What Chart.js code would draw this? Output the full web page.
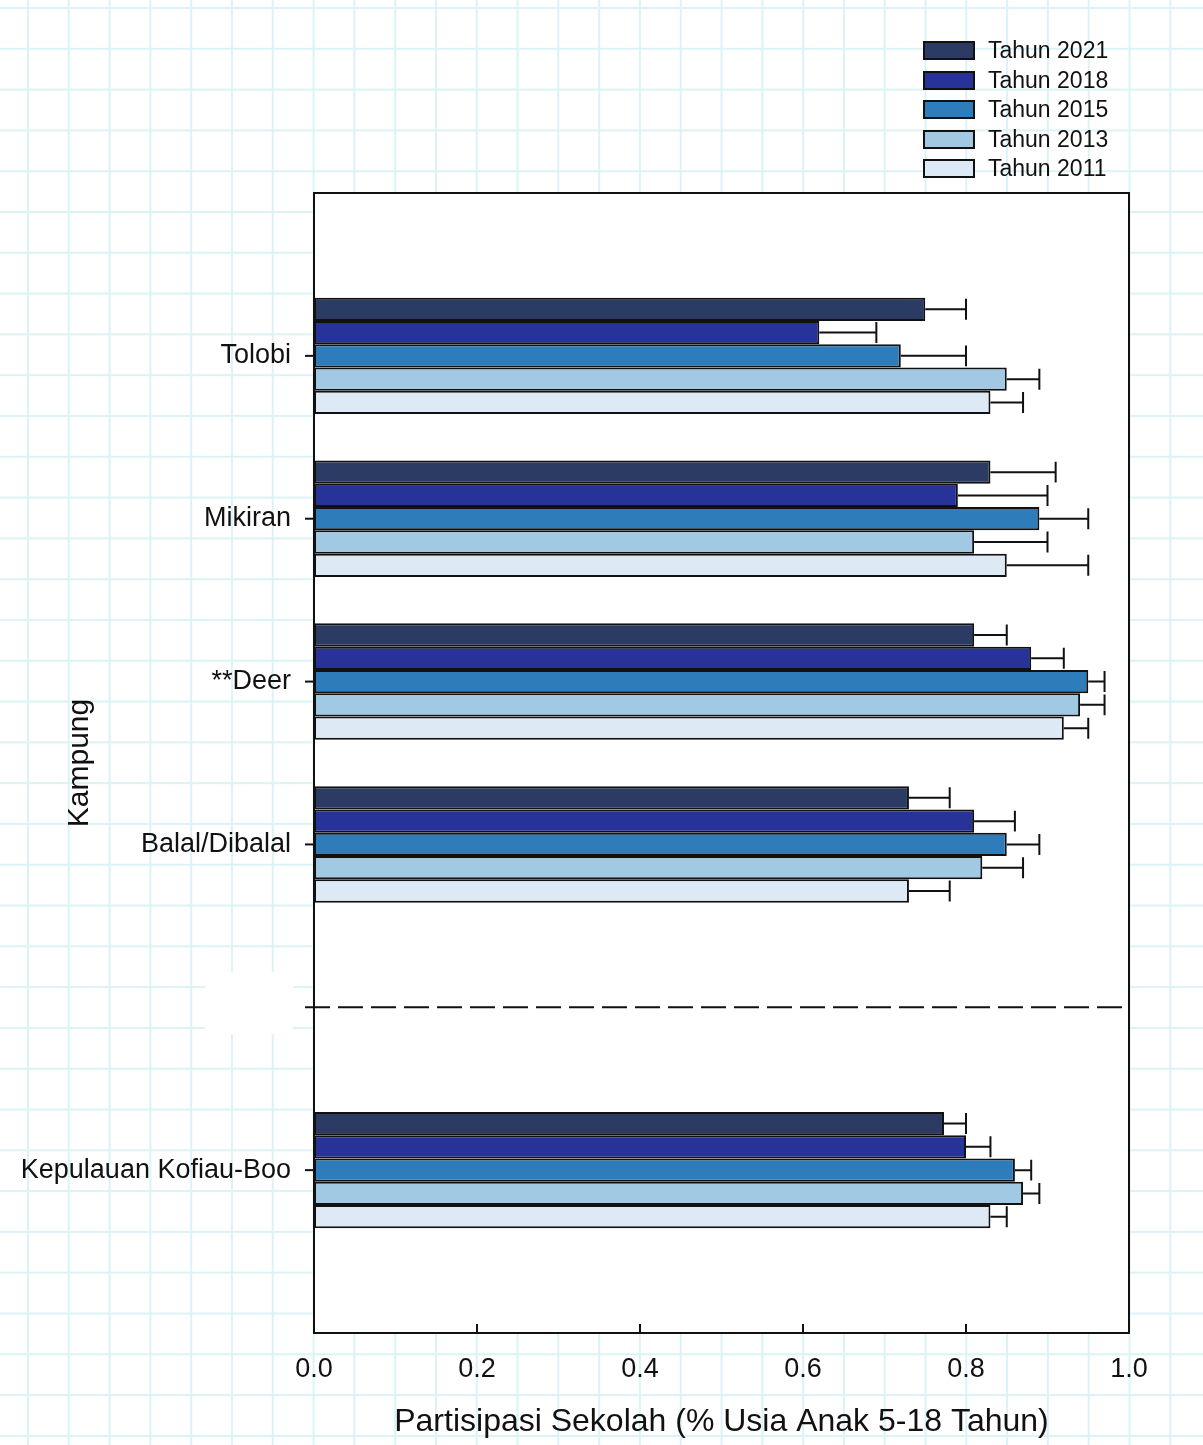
<!DOCTYPE html>
<html>
<head>
<meta charset="utf-8">
<script src="https://cdn.jsdelivr.net/npm/chart.js@4/dist/chart.umd.min.js"></script>
<style>
  html, body {
    margin: 0;
    padding: 0;
  }
  body {
    width: 1203px;
    height: 1445px;
    position: relative;
    overflow: hidden;
    background-color: #fff;
    background-image:
      linear-gradient(to right, #dcf3f6 1.5px, transparent 1.5px),
      linear-gradient(to bottom, #dcf3f6 1.5px, transparent 1.5px);
    background-size: 40.8px 40.8px;
    background-position: 27px 7px;
    font-family: "Liberation Sans", Arial, sans-serif;
  }
  #wrap {
    position: absolute;
    left: 0;
    top: 0;
    width: 1203px;
    height: 1445px;
  }
  #legend {
    position: absolute;
    left: 923px;
    top: 36px;
    font-size: 23px;
    color: #111;
  }
  .item {
    display: flex;
    align-items: center;
    height: 29.5px;
  }
  .swatch {
    width: 48px;
    height: 15px;
    border: 2px solid #111;
    margin-right: 13px;
  }
</style>
</head>
<body>
<div id="wrap"><canvas id="chart" width="1203" height="1445"></canvas></div>
<div id="legend"></div>
<script>
// kampung (blank slots keep the gap above and below, and the dashed divider)
const categories = ['', 'Tolobi', 'Mikiran', '**Deer', 'Balal/Dibalal', '', 'Kepulauan Kofiau-Boo', ''];

const seriesNames = ['Tahun 2021', 'Tahun 2018', 'Tahun 2015', 'Tahun 2013', 'Tahun 2011'];
const seriesColors = ['#2b3b63', '#28339a', '#2e7dba', '#a2c9e3', '#dde9f5'];

// mean participation per kampung, one array per year
const y2021 = [null, 0.75, 0.83, 0.81, 0.73, null, 0.773, null];
const y2018 = [null, 0.62, 0.79, 0.88, 0.81, null, 0.80, null];
const y2015 = [null, 0.72, 0.89, 0.95, 0.85, null, 0.86, null];
const y2013 = [null, 0.85, 0.81, 0.94, 0.82, null, 0.87, null];
const y2011 = [null, 0.83, 0.85, 0.92, 0.73, null, 0.83, null];

// upper end of the error bars
const err2021 = [null, 0.80, 0.91, 0.85, 0.78, null, 0.80, null];
const err2018 = [null, 0.69, 0.90, 0.92, 0.86, null, 0.83, null];
const err2015 = [null, 0.80, 0.95, 0.97, 0.89, null, 0.88, null];
const err2013 = [null, 0.89, 0.90, 0.97, 0.87, null, 0.89, null];
const err2011 = [null, 0.87, 0.95, 0.95, 0.78, null, 0.85, null];

const xTicks = [0, 0.2, 0.4, 0.6, 0.8, 1.0];

const values = [y2021, y2018, y2015, y2013, y2011];
const errors = [err2021, err2018, err2015, err2013, err2011];

const datasets = seriesNames.map((name, i) => ({
  label: name,
  data: values[i],
  errHigh: errors[i],
  backgroundColor: seriesColors[i],
  borderColor: '#111',
  borderWidth: 2,
  borderSkipped: false,
  categoryPercentage: 0.715,
  barPercentage: 1.0,
}));

// legend built by hand so it can sit in one column above the plot
const legendEl = document.getElementById('legend');
seriesNames.forEach((name, i) => {
  const row = document.createElement('div');
  row.className = 'item';
  const sw = document.createElement('span');
  sw.className = 'swatch';
  sw.style.background = seriesColors[i];
  const txt = document.createElement('span');
  txt.textContent = name;
  row.appendChild(sw);
  row.appendChild(txt);
  legendEl.appendChild(row);
});

const FONT = '"Liberation Sans", Arial, sans-serif';

// white plot background, frame, error bars, inner x ticks, dashed divider
const decorPlugin = {
  id: 'decor',
  beforeDatasetsDraw(chart) {
    const { ctx, chartArea: a } = chart;
    ctx.save();
    ctx.fillStyle = '#fff';
    ctx.fillRect(a.left, a.top, a.right - a.left, a.bottom - a.top);
    // blank patch left of the divider, as in the source figure
    ctx.fillRect(205, 972, 88, 62);
    ctx.restore();
  },
  afterDatasetsDraw(chart) {
    const { ctx, chartArea: a, scales } = chart;
    const xs = scales.x;
    const ys = scales.y;
    ctx.save();

    // error bars
    ctx.strokeStyle = '#111';
    ctx.lineWidth = 2;
    chart.data.datasets.forEach((ds, di) => {
      const meta = chart.getDatasetMeta(di);
      meta.data.forEach((bar, idx) => {
        const hi = ds.errHigh[idx];
        if (hi == null || ds.data[idx] == null) return;
        const x0 = xs.getPixelForValue(ds.data[idx]);
        const x1 = xs.getPixelForValue(hi);
        const cap = bar.height * 0.45;
        ctx.beginPath();
        ctx.moveTo(x0, bar.y);
        ctx.lineTo(x1, bar.y);
        ctx.moveTo(x1, bar.y - cap);
        ctx.lineTo(x1, bar.y + cap);
        ctx.stroke();
      });
    });

    // dashed divider on the empty slot
    const yd = ys.getPixelForValue(5);
    ctx.setLineDash([25, 8]);
    ctx.beginPath();
    ctx.moveTo(a.left - 9, yd);
    ctx.lineTo(a.right, yd);
    ctx.stroke();
    ctx.setLineDash([]);

    // frame
    ctx.strokeRect(a.left, a.top, a.right - a.left, a.bottom - a.top);

    // x ticks point into the plot
    xTicks.forEach(v => {
      const px = xs.getPixelForValue(v);
      ctx.beginPath();
      ctx.moveTo(px, a.bottom);
      ctx.lineTo(px, a.bottom - 9);
      ctx.stroke();
    });

    // y ticks point outwards, only for named kampung
    categories.forEach((c, i) => {
      if (!c) return;
      const py = ys.getPixelForValue(i);
      ctx.beginPath();
      ctx.moveTo(a.left - 9, py);
      ctx.lineTo(a.left, py);
      ctx.stroke();
    });
    ctx.restore();
  },
};

new Chart(document.getElementById('chart'), {
  type: 'bar',
  data: {
    labels: categories,
    datasets: datasets,
  },
  options: {
    indexAxis: 'y',
    responsive: false,
    animation: false,
    maintainAspectRatio: false,
    layout: {
      padding: { top: 193, right: 74, bottom: 0, left: 0 },
    },
    plugins: {
      legend: { display: false },
      tooltip: { enabled: false },
    },
    scales: {
      x: {
        type: 'linear',
        min: 0,
        max: 1,
        afterBuildTicks: (axis) => {
          axis.ticks = xTicks.map(v => ({ value: v }));
        },
        afterFit: (axis) => {
          axis.height = 112;
        },
        border: { display: false },
        grid: { display: false, drawTicks: false },
        ticks: {
          color: '#111',
          padding: 20,
          font: { family: FONT, size: 27 },
          callback: (v) => Number(v).toFixed(1),
        },
        title: {
          display: true,
          text: 'Partisipasi Sekolah (% Usia Anak 5-18 Tahun)',
          color: '#111',
          font: { family: FONT, size: 32 },
          padding: { top: 0 },
        },
      },
      y: {
        type: 'category',
        offset: false,
        afterFit: (axis) => {
          axis.width = 314;
        },
        border: { display: false },
        grid: { display: false, drawTicks: false },
        ticks: {
          color: '#111',
          padding: 23,
          autoSkip: false,
          font: { family: FONT, size: 27 },
        },
        title: {
          display: true,
          text: 'Kampung',
          color: '#111',
          font: { family: FONT, size: 30 },
          padding: { top: 62, bottom: 0 },
        },
      },
    },
  },
  plugins: [decorPlugin],
});
</script>
</body>
</html>
